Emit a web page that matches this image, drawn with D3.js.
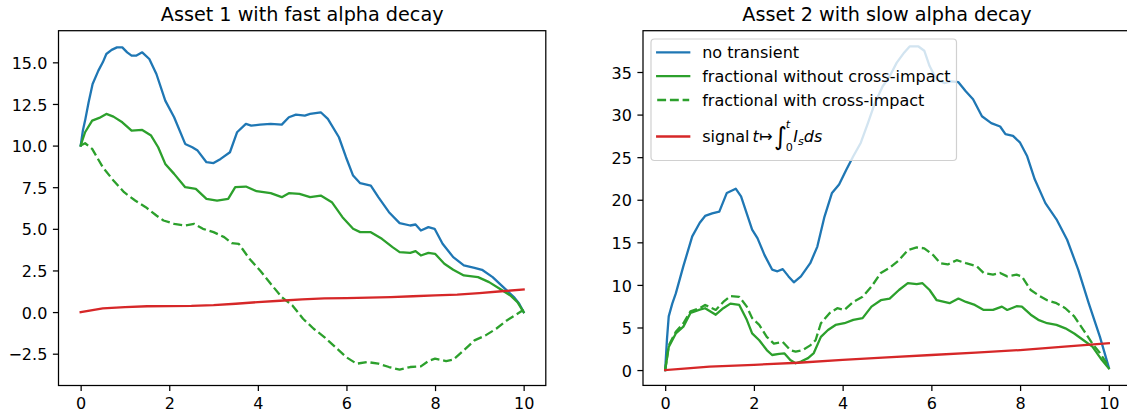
<!DOCTYPE html>
<html>
<head>
<meta charset="utf-8">
<script src="https://cdn.jsdelivr.net/npm/d3@7"></script>
<style>
  html, body { margin: 0; padding: 0; background: #fff; }
  svg { display: block; font-family: "DejaVu Sans", sans-serif; }
</style>
</head>
<body>
<svg id="chart" width="1127" height="414"></svg>
<script>
// ---------------- DATA ----------------
const titles = ["Asset 1 with fast alpha decay", "Asset 2 with slow alpha decay"];
const seriesLabels = ["no transient", "fractional without cross-impact", "fractional with cross-impact", "signal"];
const xTicks = [0, 2, 4, 6, 8, 10];
const yTicksA1 = [-2.5, 0, 2.5, 5, 7.5, 10, 12.5, 15];
const yTicksA2 = [0, 5, 10, 15, 20, 25, 30, 35];

// Asset 1: [t, value]
const a1NoTransient = [[0,10.0],[0.05,10.9],[0.1,11.5],[0.18,12.6],[0.27,13.7],[0.4,14.5],[0.5,15.0],[0.58,15.5],[0.7,15.75],[0.82,15.9],[0.94,15.9],[1.05,15.6],[1.15,15.4],[1.25,15.4],[1.39,15.6],[1.55,15.2],[1.71,14.3],[1.91,12.7],[2.11,11.7],[2.36,10.1],[2.52,9.9],[2.64,9.7],[2.84,9.0],[3.0,8.95],[3.16,9.2],[3.37,9.6],[3.53,10.8],[3.73,11.3],[3.85,11.2],[4.05,11.26],[4.29,11.3],[4.54,11.26],[4.7,11.7],[4.86,11.86],[5.06,11.8],[5.18,11.9],[5.42,12.0],[5.58,11.6],[5.83,10.5],[5.99,9.3],[6.15,8.2],[6.31,7.74],[6.55,7.6],[6.72,6.9],[6.96,6.0],[7.2,5.34],[7.44,5.2],[7.56,5.26],[7.68,4.9],[7.85,5.1],[7.99,5.0],[8.17,4.1],[8.41,3.3],[8.65,2.8],[8.89,2.66],[9.06,2.54],[9.3,2.1],[9.54,1.5],[9.78,0.9],[9.9,0.5],[10,0.0]];
const a1FracNoCross = [[0,10.0],[0.1,10.8],[0.26,11.5],[0.42,11.66],[0.58,11.9],[0.74,11.74],[0.94,11.4],[1.15,10.9],[1.39,10.94],[1.59,10.6],[1.75,9.9],[1.91,8.9],[2.11,8.3],[2.36,7.5],[2.6,7.4],[2.84,6.8],[3.08,6.7],[3.33,6.8],[3.49,7.5],[3.73,7.54],[3.97,7.26],[4.29,7.14],[4.54,6.9],[4.7,7.14],[4.94,7.1],[5.18,6.9],[5.42,7.0],[5.67,6.6],[5.91,5.7],[6.15,5.0],[6.31,4.8],[6.55,4.8],[6.8,4.4],[7.04,3.9],[7.2,3.6],[7.44,3.56],[7.56,3.66],[7.68,3.4],[7.85,3.56],[8.0,3.5],[8.21,2.9],[8.41,2.54],[8.65,2.2],[8.97,2.1],[9.22,1.8],[9.46,1.4],[9.7,1.0],[9.86,0.6],[10,0.0]];
const a1FracCross = [[0,10.0],[0.1,10.14],[0.26,9.8],[0.5,8.7],[0.74,7.9],[0.98,7.2],[1.23,6.7],[1.47,6.3],[1.71,5.8],[1.87,5.5],[2.11,5.3],[2.36,5.2],[2.56,5.3],[2.76,5.0],[3.0,4.8],[3.24,4.5],[3.41,4.14],[3.57,4.1],[3.81,3.2],[4.05,2.5],[4.29,1.7],[4.54,0.9],[4.78,0.4],[5.02,-0.4],[5.26,-1.0],[5.5,-1.5],[5.75,-2.1],[5.99,-2.7],[6.23,-3.1],[6.47,-3.0],[6.72,-3.1],[6.96,-3.3],[7.2,-3.46],[7.44,-3.3],[7.68,-3.26],[7.85,-2.94],[8.0,-2.8],[8.25,-2.94],[8.41,-2.86],[8.65,-2.3],[8.89,-1.7],[9.14,-1.4],[9.38,-1.0],[9.62,-0.5],[9.86,-0.1],[10,0.14]];
const a1Signal = [[0,0],[0.5,0.22],[1,0.3],[1.5,0.35],[2,0.36],[2.5,0.37],[3,0.42],[3.5,0.5],[4,0.6],[4.5,0.68],[5,0.76],[5.5,0.82],[6,0.84],[6.5,0.87],[7,0.9],[7.5,0.95],[8,1.0],[8.5,1.05],[9,1.14],[9.5,1.25],[10,1.36]];

// Asset 2: [t, value]
const a2NoTransient = [[0,0],[0.04,3.6],[0.08,6.3],[0.16,7.8],[0.24,9.0],[0.41,12.2],[0.61,15.7],[0.78,17.3],[0.9,18.1],[1.06,18.4],[1.22,18.6],[1.39,20.8],[1.59,21.3],[1.71,20.4],[1.96,16.5],[2.08,15.5],[2.24,13.5],[2.41,11.8],[2.53,11.6],[2.65,11.85],[2.78,11.0],[2.9,10.3],[3.06,11.0],[3.27,12.55],[3.43,14.5],[3.59,18.0],[3.76,20.8],[3.92,21.8],[4.08,23.5],[4.24,25.1],[4.41,26.7],[4.57,29.0],[4.73,31.4],[4.9,33.3],[5.06,34.5],[5.22,36.1],[5.39,37.3],[5.51,38.0],[5.71,38.0],[5.84,37.5],[5.96,35.7],[6.12,34.1],[6.29,33.7],[6.45,33.9],[6.61,33.8],[6.78,32.7],[6.94,31.8],[7.14,29.8],[7.35,29.0],[7.55,28.6],[7.67,27.7],[7.84,27.5],[8.0,26.7],[8.16,25.1],[8.33,22.4],[8.57,19.6],[8.82,17.7],[9.06,15.3],[9.31,11.8],[9.55,7.8],[9.8,3.9],[10,0.3]];
const a2FracNoCross = [[0,0],[0.08,2.7],[0.24,4.3],[0.41,5.1],[0.57,6.7],[0.78,7.1],[0.9,7.26],[1.14,6.5],[1.31,7.26],[1.47,7.8],[1.67,7.65],[1.84,5.9],[1.96,4.3],[2.12,3.5],[2.29,2.35],[2.41,1.77],[2.57,1.9],[2.69,1.96],[2.82,1.18],[2.94,0.8],[3.06,1.0],[3.22,1.4],[3.35,2.0],[3.51,3.9],[3.67,4.7],[3.84,5.3],[4.04,5.5],[4.24,5.9],[4.45,6.1],[4.65,7.45],[4.86,8.2],[5.06,8.4],[5.27,9.4],[5.47,10.2],[5.67,10.1],[5.8,10.2],[5.96,9.4],[6.12,8.2],[6.29,8.0],[6.41,7.85],[6.61,8.4],[6.78,8.0],[6.98,7.65],[7.18,7.06],[7.39,7.06],[7.59,7.45],[7.71,7.06],[7.92,7.5],[8.04,7.45],[8.24,6.5],[8.41,5.9],[8.61,5.5],[8.82,5.3],[9.02,4.9],[9.22,4.3],[9.43,3.5],[9.63,2.75],[9.84,1.2],[10,0.2]];
const a2FracCross = [[0,0],[0.08,2.9],[0.24,4.5],[0.41,5.5],[0.57,6.9],[0.78,7.26],[0.9,7.65],[1.14,7.06],[1.31,8.0],[1.47,8.7],[1.67,8.6],[1.84,7.45],[1.96,6.1],[2.12,5.3],[2.29,3.9],[2.45,3.1],[2.65,3.3],[2.82,2.35],[2.94,2.16],[3.1,2.35],[3.27,2.9],[3.39,3.5],[3.51,5.5],[3.71,6.7],[3.88,7.26],[4.04,7.06],[4.24,8.0],[4.45,8.6],[4.65,9.8],[4.86,11.4],[5.06,12.0],[5.27,12.9],[5.47,14.1],[5.67,14.4],[5.84,14.3],[6.04,13.5],[6.2,12.55],[6.37,12.4],[6.57,12.9],[6.78,12.55],[7.02,12.2],[7.18,11.4],[7.39,11.2],[7.55,11.4],[7.71,11.0],[7.92,11.2],[8.04,11.0],[8.24,9.4],[8.41,8.8],[8.61,8.2],[8.82,7.85],[9.02,7.26],[9.22,6.3],[9.43,4.7],[9.63,3.1],[9.8,2.0],[10,0.4]];
const a2Signal = [[0,0],[0.5,0.2],[1,0.4],[2,0.62],[3,0.86],[4,1.2],[5,1.5],[6,1.77],[7,2.05],[8,2.35],[9,2.75],[10,3.15]];

// ---------------- STYLE ----------------
const colors = ["#1f77b4", "#2ca02c", "#2ca02c", "#d62728"];
const dashes = [null, null, "8.9,3.8", null];
const LW = 2.3;
const tickFont = 16;
const legendFont = 16;
const titleFont = 19.2;
const TICK = 5.6;

const svg = d3.select("#chart");

const panels = [
  { title: titles[0], left: 58.5, right: 545.8, top: 30.7, bottom: 385.5,
    xDom: [-0.5, 10.5], yDom: [-4.41, 16.9], yTicks: yTicksA1, yFmt: d3.format(".1f"),
    series: [a1NoTransient, a1FracNoCross, a1FracCross, a1Signal], legend: false },
  { title: titles[1], left: 643, right: 1131, top: 30.7, bottom: 385.4,
    xDom: [-0.5, 10.5], yDom: [-1.8, 39.85], yTicks: yTicksA2, yFmt: d3.format("d"),
    series: [a2NoTransient, a2FracNoCross, a2FracCross, a2Signal], legend: true }
];

panels.forEach((p, pi) => {
  const x = d3.scaleLinear().domain(p.xDom).range([p.left, p.right]);
  const y = d3.scaleLinear().domain(p.yDom).range([p.bottom, p.top]);
  const g = svg.append("g");

  const clipId = "clip" + pi;
  svg.append("clipPath").attr("id", clipId).append("rect")
    .attr("x", p.left).attr("y", p.top).attr("width", p.right - p.left).attr("height", p.bottom - p.top);

  const line = d3.line().x(d => x(d[0])).y(d => y(d[1]));
  const lg = g.append("g").attr("clip-path", `url(#${clipId})`);
  p.series.forEach((s, i) => {
    lg.append("path").datum(s).attr("d", line)
      .attr("fill", "none").attr("stroke", colors[i]).attr("stroke-width", LW)
      .attr("stroke-linejoin", "round").attr("stroke-linecap", dashes[i] ? "butt" : "square")
      .attr("stroke-dasharray", dashes[i]);
  });

  // axes
  const xAxis = d3.axisBottom(x).tickValues(xTicks).tickFormat(d3.format("d")).tickSizeInner(TICK).tickSizeOuter(0).tickPadding(5.6);
  const yAxis = d3.axisLeft(y).tickValues(p.yTicks).tickFormat(p.yFmt).tickSizeInner(TICK).tickSizeOuter(0).tickPadding(5.6);
  const gx = g.append("g").attr("transform", `translate(0,${p.bottom})`).call(xAxis);
  const gy = g.append("g").attr("transform", `translate(${p.left},0)`).call(yAxis);
  [gx, gy].forEach(a => {
    a.select(".domain").remove();
    a.selectAll(".tick line").attr("stroke", "#000").attr("stroke-width", 1.25);
    a.selectAll(".tick text").attr("fill", "#000").attr("font-size", tickFont)
      .attr("font-family", "DejaVu Sans");
  });
  gx.selectAll(".tick text").attr("dy", null).attr("y", 23.8);
  gy.selectAll(".tick text").attr("dy", "0.38em");

  // spines
  g.append("rect").attr("x", p.left).attr("y", p.top)
    .attr("width", p.right - p.left).attr("height", p.bottom - p.top)
    .attr("fill", "none").attr("stroke", "#000").attr("stroke-width", 1.25);

  // title
  g.append("text").attr("x", (p.left + p.right) / 2).attr("y", 21)
    .attr("text-anchor", "middle").attr("font-size", titleFont).attr("fill", "#000")
    .text(p.title);

  if (p.legend) {
    const leg = g.append("g");
    leg.append("rect").attr("x", 651).attr("y", 39).attr("width", 305.5).attr("height", 121.5)
      .attr("rx", 3.5).attr("ry", 3.5)
      .attr("fill", "#fff").attr("fill-opacity", 0.8)
      .attr("stroke", "#d0d0d0").attr("stroke-width", 1.2);
    const rowsY = [52.3, 76.2, 100, 136.5];
    rowsY.forEach((ry, i) => {
      leg.append("line").attr("x1", 657.2).attr("x2", 689.2).attr("y1", ry).attr("y2", ry)
        .attr("stroke", colors[i]).attr("stroke-width", LW)
        .attr("stroke-linecap", dashes[i] ? "butt" : "square")
        .attr("stroke-dasharray", dashes[i]);
      if (i < 3) {
        leg.append("text").attr("x", 702.2).attr("y", ry + 6).attr("font-size", legendFont)
          .attr("fill", "#000").text(seriesLabels[i]);
      } else {
        const t = leg.append("text").attr("x", 702.2).attr("y", ry + 5.5).attr("font-size", legendFont).attr("fill", "#000");
        t.append("tspan").text(seriesLabels[3]);
        t.append("tspan").attr("font-style", "italic").attr("dx", 3).text("t");
        t.append("tspan").attr("dx", 0.5).text("\u21A6");
        t.append("tspan").attr("dx", 1).attr("font-size", 25).attr("dy", 3).text("\u222B");
        t.append("tspan").attr("font-size", 11.2).attr("font-style", "italic").attr("dx", -1).attr("dy", -17).text("t");
        t.append("tspan").attr("font-size", 11.2).attr("dx", -4.5).attr("dy", 23).text("0");
        t.append("tspan").attr("font-style", "italic").attr("dx", 0.5).attr("dy", -9).text("I");
        t.append("tspan").attr("font-style", "italic").attr("font-size", 11.2).attr("dy", 3).text("s");
        t.append("tspan").attr("font-style", "italic").attr("dy", -3).text("ds");
      }
    });
  }
});
</script>
</body>
</html>
